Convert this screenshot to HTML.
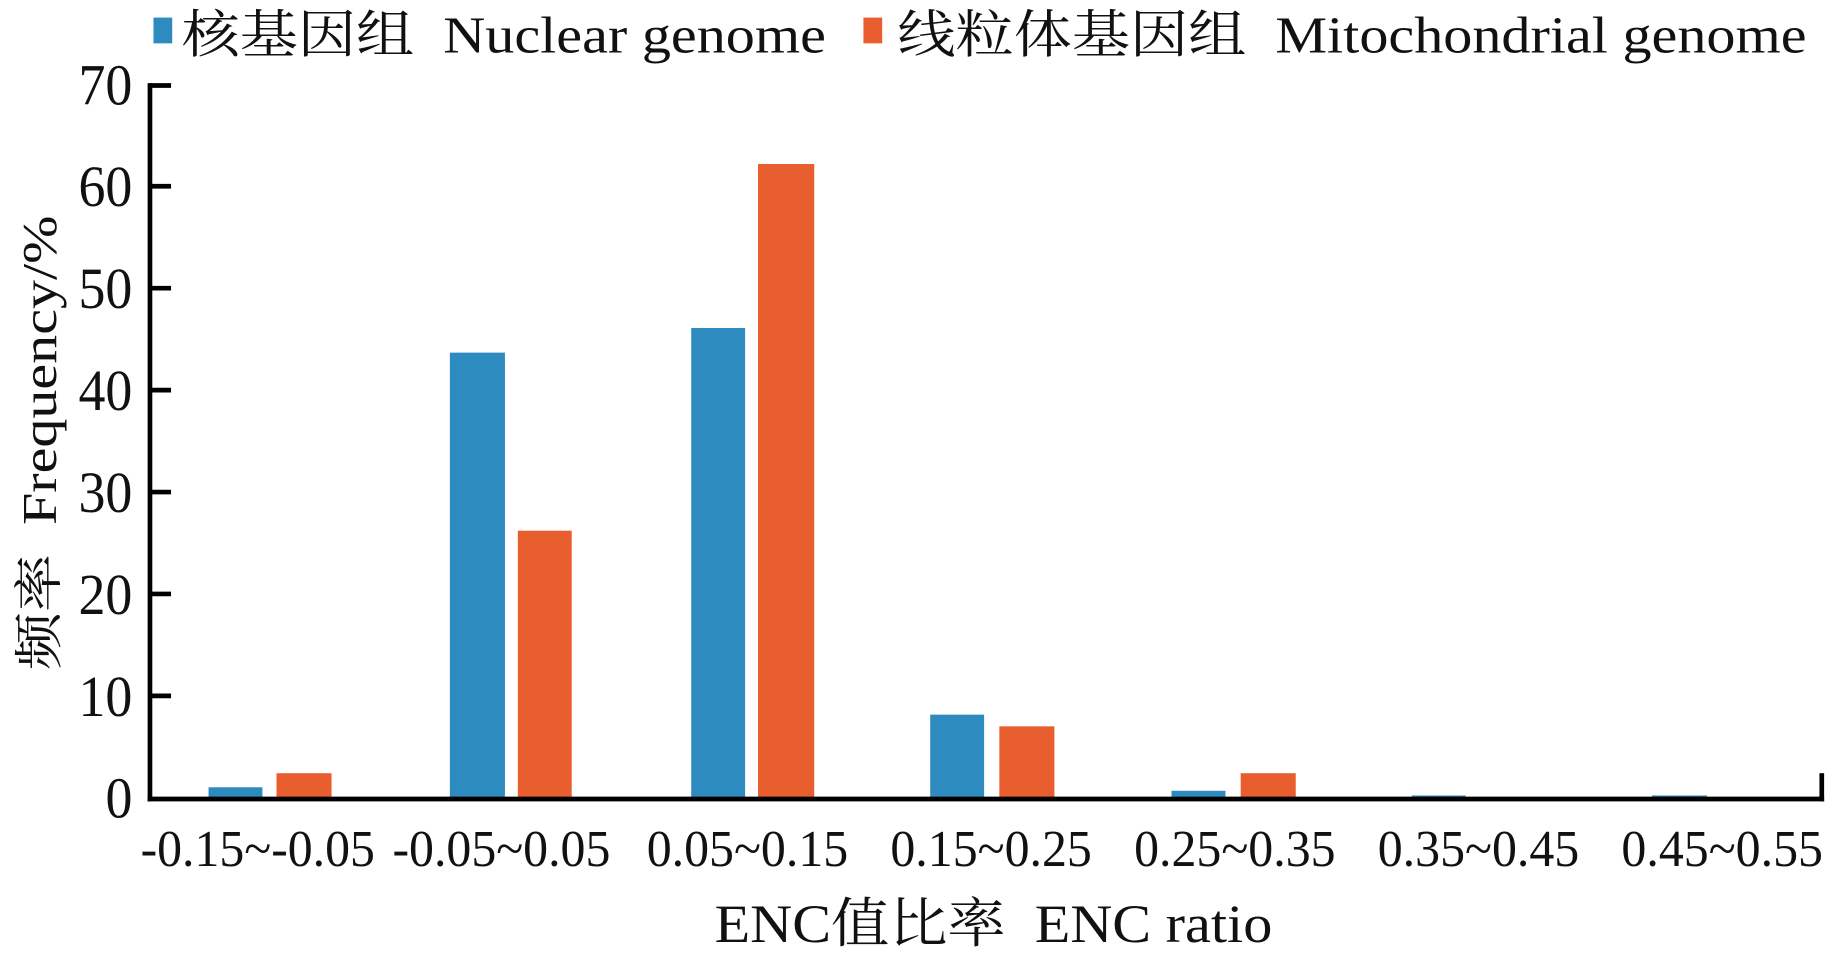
<!DOCTYPE html>
<html><head><meta charset="utf-8"><style>
html,body{margin:0;padding:0;background:#fff;width:1837px;height:961px;overflow:hidden}
svg{display:block}
text{font-family:"Liberation Serif","Noto Serif CJK SC",serif;fill:#111}
</style></head><body>
<svg width="1837" height="961" viewBox="0 0 1568 820.3" preserveAspectRatio="none">
<!-- legend -->
<rect x="131" y="15" width="16" height="22" fill="#2E8BC0"/>
<text x="155" y="45" font-size="44" textLength="550" lengthAdjust="spacingAndGlyphs">核基因组&#160;&#160;Nuclear genome</text>
<rect x="737" y="15" width="16" height="22" fill="#E95E2E"/>
<text x="766" y="45" font-size="44" textLength="776" lengthAdjust="spacingAndGlyphs">线粒体基因组&#160;&#160;Mitochondrial genome</text>
<!-- y axis title -->
<text transform="translate(48,378) rotate(-90)" text-anchor="middle" font-size="42" textLength="388" lengthAdjust="spacingAndGlyphs">频率&#160;&#160;Frequency/%</text>
<!-- y ticks labels -->
<g font-size="50" text-anchor="end">
<text x="113" y="89" textLength="46" lengthAdjust="spacingAndGlyphs">70</text>
<text x="113" y="176" textLength="46" lengthAdjust="spacingAndGlyphs">60</text>
<text x="113" y="263" textLength="46" lengthAdjust="spacingAndGlyphs">50</text>
<text x="113" y="350" textLength="46" lengthAdjust="spacingAndGlyphs">40</text>
<text x="113" y="437" textLength="46" lengthAdjust="spacingAndGlyphs">30</text>
<text x="113" y="524" textLength="46" lengthAdjust="spacingAndGlyphs">20</text>
<text x="113" y="611" textLength="46" lengthAdjust="spacingAndGlyphs">10</text>
<text x="113" y="698" textLength="23" lengthAdjust="spacingAndGlyphs">0</text>
</g>
<!-- bars -->
<g fill="#2E8BC0">
<rect x="178" y="672" width="46" height="10"/>
<rect x="384" y="301" width="47" height="381"/>
<rect x="590" y="280" width="46" height="402"/>
<rect x="794" y="610" width="46" height="72"/>
<rect x="1000" y="675" width="46" height="7"/>
<rect x="1205" y="679" width="46" height="3"/>
<rect x="1410" y="679" width="47" height="3"/>
</g>
<g fill="#E95E2E">
<rect x="236" y="660" width="47" height="22"/>
<rect x="442" y="453" width="46" height="229"/>
<rect x="647" y="140" width="48" height="542"/>
<rect x="853" y="620" width="47" height="62"/>
<rect x="1059" y="660" width="47" height="22"/>
</g>
<!-- axes -->
<g stroke="#000" stroke-width="4" fill="none">
<line x1="128" y1="71" x2="128" y2="684"/>
<line x1="126" y1="682" x2="1557" y2="682"/>
<line x1="1555" y1="660" x2="1555" y2="684"/>
<line x1="128" y1="73" x2="146" y2="73"/>
<line x1="128" y1="159" x2="146" y2="159"/>
<line x1="128" y1="246" x2="146" y2="246"/>
<line x1="128" y1="333" x2="146" y2="333"/>
<line x1="128" y1="420" x2="146" y2="420"/>
<line x1="128" y1="507" x2="146" y2="507"/>
<line x1="128" y1="594" x2="146" y2="594"/>
</g>
<!-- x labels -->
<g font-size="44" text-anchor="middle">
<text x="220" y="739" textLength="200" lengthAdjust="spacingAndGlyphs">-0.15~-0.05</text>
<text x="428" y="739" textLength="186" lengthAdjust="spacingAndGlyphs">-0.05~0.05</text>
<text x="638" y="739" textLength="172" lengthAdjust="spacingAndGlyphs">0.05~0.15</text>
<text x="846" y="739" textLength="172" lengthAdjust="spacingAndGlyphs">0.15~0.25</text>
<text x="1054" y="739" textLength="172" lengthAdjust="spacingAndGlyphs">0.25~0.35</text>
<text x="1262" y="739" textLength="172" lengthAdjust="spacingAndGlyphs">0.35~0.45</text>
<text x="1470" y="739" textLength="172" lengthAdjust="spacingAndGlyphs">0.45~0.55</text>
</g>
<text x="848" y="804" font-size="46" text-anchor="middle" textLength="476" lengthAdjust="spacingAndGlyphs">ENC值比率&#160;&#160;ENC ratio</text>
</svg>
</body></html>
